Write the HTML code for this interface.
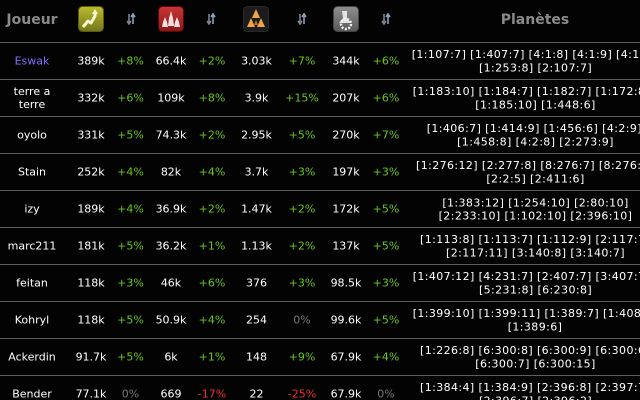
<!DOCTYPE html>
<html><head><meta charset="utf-8">
<style>
html,body{margin:0;padding:0;background:#030303;width:640px;height:400px;overflow:hidden;}
body{position:relative;font-family:"DejaVu Sans","Liberation Sans",sans-serif;font-size:11px;color:#fff;}
.t{position:absolute;white-space:nowrap;transform:translate(-50%,-50%);line-height:13px;text-align:center;}
.l{position:absolute;white-space:nowrap;line-height:13px;letter-spacing:0.4px;}
.g{color:#6cc51c;}
.z{color:#777;}
.r{color:#ee3030;}
.hr{position:absolute;left:0;width:640px;height:1px;background:#5e5e5e;}
.h{position:absolute;transform:translate(-50%,-50%);font-weight:bold;font-size:14px;color:#8a8a8a;white-space:nowrap;}
.ic{position:absolute;top:6px;width:26px;height:26px;}
.ar{position:absolute;top:13px;width:10px;height:12px;}
</style></head><body>

<div class="h" style="left:32px;top:20px;">Joueur</div>
<div class="h" style="left:535px;top:20px;">Planètes</div>

<svg class="ic" style="left:78px" viewBox="0 0 26 26"><defs><linearGradient id="a" x1="0" y1="0" x2="0" y2="1"><stop offset="0" stop-color="#bcbc30"/><stop offset="1" stop-color="#74741a"/></linearGradient></defs><rect x="0.5" y="0.5" width="25" height="25" rx="4" fill="url(#a)" stroke="#5a5a10"/><polyline points="5,21 10,15 13,17 17,10 17,6" fill="none" stroke="#f4f4d0" stroke-width="3" stroke-linejoin="round"/><polygon points="14,8 17,3 20,8" fill="#f4f4d0"/></svg>

<svg class="ic" style="left:158px" viewBox="0 0 26 26"><defs><linearGradient id="b" x1="0" y1="0" x2="0" y2="1"><stop offset="0" stop-color="#c83535"/><stop offset="1" stop-color="#8a1818"/></linearGradient></defs><rect x="0.5" y="0.5" width="25" height="25" rx="4" fill="url(#b)" stroke="#5a0a0a"/><polygon points="13,5 15,12 16,20 10,20 11,12" fill="#f2dede"/><polygon points="7,11 9,16 10,21 4,21 5,16" fill="#f2dede"/><polygon points="19,11 21,16 22,21 16,21 17,16" fill="#f2dede"/></svg>

<svg class="ic" style="left:243px" viewBox="0 0 26 26"><rect x="0.5" y="0.5" width="25" height="25" rx="4" fill="#1c1c1c" stroke="#2a2a2a"/><polygon points="13,3 17,12 9,12" fill="#f0a448"/><polygon points="8,12 12,21 4,21" fill="#f0a448"/><polygon points="18,12 22,21 14,21" fill="#f0a448"/><polygon points="13,14 15,19 11,19" fill="#c07020"/></svg>

<svg class="ic" style="left:333px" viewBox="0 0 26 26"><defs><linearGradient id="d" x1="0" y1="0" x2="0" y2="1"><stop offset="0" stop-color="#8e8e8e"/><stop offset="1" stop-color="#5a5a5a"/></linearGradient></defs><rect x="0.5" y="0.5" width="25" height="25" rx="4" fill="url(#d)" stroke="#444"/><path d="M9 5 h5 v7 l4 5 h-12 l4-5 z" fill="#eee" opacity="0.9"/><circle cx="13" cy="18" r="5" fill="none" stroke="#eee" stroke-width="2.5" stroke-dasharray="2 1.5"/></svg>

<svg class="ar" style="left:126px" viewBox="0 0 10 12"><path d="M3 1v9M1 8l2 3 2-3" stroke="#7a8590" stroke-width="1.6" fill="none"/><path d="M7 11V2M5 4l2-3 2 3" stroke="#8fa0b8" stroke-width="1.6" fill="none"/></svg>
<svg class="ar" style="left:206px" viewBox="0 0 10 12"><path d="M3 1v9M1 8l2 3 2-3" stroke="#7a8590" stroke-width="1.6" fill="none"/><path d="M7 11V2M5 4l2-3 2 3" stroke="#8fa0b8" stroke-width="1.6" fill="none"/></svg>
<svg class="ar" style="left:297px" viewBox="0 0 10 12"><path d="M3 1v9M1 8l2 3 2-3" stroke="#7a8590" stroke-width="1.6" fill="none"/><path d="M7 11V2M5 4l2-3 2 3" stroke="#8fa0b8" stroke-width="1.6" fill="none"/></svg>
<svg class="ar" style="left:381px" viewBox="0 0 10 12"><path d="M3 1v9M1 8l2 3 2-3" stroke="#7a8590" stroke-width="1.6" fill="none"/><path d="M7 11V2M5 4l2-3 2 3" stroke="#8fa0b8" stroke-width="1.6" fill="none"/></svg>

<div class="hr" style="top:42px"></div>
<div class="hr" style="top:79px"></div>
<div class="hr" style="top:116px"></div>
<div class="hr" style="top:153px"></div>
<div class="hr" style="top:190px"></div>
<div class="hr" style="top:227px"></div>
<div class="hr" style="top:264px"></div>
<div class="hr" style="top:301px"></div>
<div class="hr" style="top:338px"></div>
<div class="hr" style="top:375px"></div>

<!-- Row 1 -->
<div class="t" style="left:32px;top:61px;color:#8070ff">Eswak</div>
<div class="t" style="left:91px;top:61px">389k</div>
<div class="t g" style="left:130.5px;top:61px">+8%</div>
<div class="t" style="left:171px;top:61px">66.4k</div>
<div class="t g" style="left:212px;top:61px">+2%</div>
<div class="t" style="left:256.5px;top:61px">3.03k</div>
<div class="t g" style="left:302px;top:61px">+7%</div>
<div class="t" style="left:346px;top:61px">344k</div>
<div class="t g" style="left:386px;top:61px">+6%</div>
<div class="l" style="left:411.7px;top:48px">[1:107:7] [1:407:7] [4:1:8] [4:1:9] [4:1:10]</div>
<div class="t" style="left:535.5px;top:67.5px;letter-spacing:0.4px">[1:253:8] [2:107:7]</div>

<!-- Row 2 -->
<div class="t" style="left:32px;top:98px">terre a<br>terre</div>
<div class="t" style="left:91px;top:98px">332k</div>
<div class="t g" style="left:130.5px;top:98px">+6%</div>
<div class="t" style="left:171px;top:98px">109k</div>
<div class="t g" style="left:212px;top:98px">+8%</div>
<div class="t" style="left:256.5px;top:98px">3.9k</div>
<div class="t g" style="left:302px;top:98px">+15%</div>
<div class="t" style="left:346px;top:98px">207k</div>
<div class="t g" style="left:386px;top:98px">+6%</div>
<div class="l" style="left:412.7px;top:85px">[1:183:10] [1:184:7] [1:182:7] [1:172:8]</div>
<div class="t" style="left:535.5px;top:104.5px;letter-spacing:0.4px">[1:185:10] [1:448:6]</div>

<!-- Row 3 -->
<div class="t" style="left:32px;top:135px">oyolo</div>
<div class="t" style="left:91px;top:135px">331k</div>
<div class="t g" style="left:130.5px;top:135px">+5%</div>
<div class="t" style="left:171px;top:135px">74.3k</div>
<div class="t g" style="left:212px;top:135px">+2%</div>
<div class="t" style="left:256.5px;top:135px">2.95k</div>
<div class="t g" style="left:302px;top:135px">+5%</div>
<div class="t" style="left:346px;top:135px">270k</div>
<div class="t g" style="left:386px;top:135px">+7%</div>
<div class="l" style="left:426.7px;top:122px">[1:406:7] [1:414:9] [1:456:6] [4:2:9]</div>
<div class="t" style="left:535.5px;top:141.5px;letter-spacing:0.4px">[1:458:8] [4:2:8] [2:273:9]</div>

<!-- Row 4 -->
<div class="t" style="left:32px;top:172px">Stain</div>
<div class="t" style="left:91px;top:172px">252k</div>
<div class="t g" style="left:130.5px;top:172px">+4%</div>
<div class="t" style="left:171px;top:172px">82k</div>
<div class="t g" style="left:212px;top:172px">+4%</div>
<div class="t" style="left:256.5px;top:172px">3.7k</div>
<div class="t g" style="left:302px;top:172px">+3%</div>
<div class="t" style="left:346px;top:172px">197k</div>
<div class="t g" style="left:386px;top:172px">+3%</div>
<div class="l" style="left:416px;top:159px">[1:276:12] [2:277:8] [8:276:7] [8:276:8]</div>
<div class="t" style="left:535.5px;top:178.5px;letter-spacing:0.4px">[2:2:5] [2:411:6]</div>

<!-- Row 5 -->
<div class="t" style="left:32px;top:209px">izy</div>
<div class="t" style="left:91px;top:209px">189k</div>
<div class="t g" style="left:130.5px;top:209px">+4%</div>
<div class="t" style="left:171px;top:209px">36.9k</div>
<div class="t g" style="left:212px;top:209px">+2%</div>
<div class="t" style="left:256.5px;top:209px">1.47k</div>
<div class="t g" style="left:302px;top:209px">+2%</div>
<div class="t" style="left:346px;top:209px">172k</div>
<div class="t g" style="left:386px;top:209px">+5%</div>
<div class="t" style="left:535.5px;top:202.5px;letter-spacing:0.4px">[1:383:12] [1:254:10] [2:80:10]</div>
<div class="t" style="left:535.5px;top:215.5px;letter-spacing:0.4px">[2:233:10] [1:102:10] [2:396:10]</div>

<!-- Row 6 -->
<div class="t" style="left:32px;top:246px">marc211</div>
<div class="t" style="left:91px;top:246px">181k</div>
<div class="t g" style="left:130.5px;top:246px">+5%</div>
<div class="t" style="left:171px;top:246px">36.2k</div>
<div class="t g" style="left:212px;top:246px">+1%</div>
<div class="t" style="left:256.5px;top:246px">1.13k</div>
<div class="t g" style="left:302px;top:246px">+2%</div>
<div class="t" style="left:346px;top:246px">137k</div>
<div class="t g" style="left:386px;top:246px">+5%</div>
<div class="l" style="left:420px;top:233px">[1:113:8] [1:113:7] [1:112:9] [2:117:7]</div>
<div class="t" style="left:535.5px;top:252.5px;letter-spacing:0.4px">[2:117:11] [3:140:8] [3:140:7]</div>

<!-- Row 7 -->
<div class="t" style="left:32px;top:283px">feitan</div>
<div class="t" style="left:91px;top:283px">118k</div>
<div class="t g" style="left:130.5px;top:283px">+3%</div>
<div class="t" style="left:171px;top:283px">46k</div>
<div class="t g" style="left:212px;top:283px">+6%</div>
<div class="t" style="left:256.5px;top:283px">376</div>
<div class="t g" style="left:302px;top:283px">+3%</div>
<div class="t" style="left:346px;top:283px">98.5k</div>
<div class="t g" style="left:386px;top:283px">+3%</div>
<div class="l" style="left:412.7px;top:270px">[1:407:12] [4:231:7] [2:407:7] [3:407:7]</div>
<div class="t" style="left:535.5px;top:289.5px;letter-spacing:0.4px">[5:231:8] [6:230:8]</div>

<!-- Row 8 -->
<div class="t" style="left:32px;top:320px">Kohryl</div>
<div class="t" style="left:91px;top:320px">118k</div>
<div class="t g" style="left:130.5px;top:320px">+5%</div>
<div class="t" style="left:171px;top:320px">50.9k</div>
<div class="t g" style="left:212px;top:320px">+4%</div>
<div class="t" style="left:256.5px;top:320px">254</div>
<div class="t z" style="left:302px;top:320px">0%</div>
<div class="t" style="left:346px;top:320px">99.6k</div>
<div class="t g" style="left:386px;top:320px">+5%</div>
<div class="l" style="left:412.7px;top:307px">[1:399:10] [1:399:11] [1:389:7] [1:408:8]</div>
<div class="t" style="left:535px;top:326.5px;letter-spacing:0.4px">[1:389:6]</div>

<!-- Row 9 -->
<div class="t" style="left:32px;top:357px">Ackerdin</div>
<div class="t" style="left:91px;top:357px">91.7k</div>
<div class="t g" style="left:130.5px;top:357px">+5%</div>
<div class="t" style="left:171px;top:357px">6k</div>
<div class="t g" style="left:212px;top:357px">+1%</div>
<div class="t" style="left:256.5px;top:357px">148</div>
<div class="t g" style="left:302px;top:357px">+9%</div>
<div class="t" style="left:346px;top:357px">67.9k</div>
<div class="t g" style="left:386px;top:357px">+4%</div>
<div class="l" style="left:420px;top:344px">[1:226:8] [6:300:8] [6:300:9] [6:300:6]</div>
<div class="t" style="left:535.5px;top:363.5px;letter-spacing:0.4px">[6:300:7] [6:300:15]</div>

<!-- Row 10 -->
<div class="t" style="left:32px;top:394px">Bender</div>
<div class="t" style="left:91px;top:394px">77.1k</div>
<div class="t z" style="left:130.5px;top:394px">0%</div>
<div class="t" style="left:171px;top:394px">669</div>
<div class="t r" style="left:212px;top:394px">-17%</div>
<div class="t" style="left:256.5px;top:394px">22</div>
<div class="t r" style="left:302px;top:394px">-25%</div>
<div class="t" style="left:346px;top:394px">67.9k</div>
<div class="t z" style="left:386px;top:394px">0%</div>
<div class="l" style="left:420px;top:381px">[1:384:4] [1:384:9] [2:396:8] [2:397:7]</div>
<div class="t" style="left:535.5px;top:400.5px;letter-spacing:0.4px">[2:396:7] [2:396:2]</div>

</body></html>
